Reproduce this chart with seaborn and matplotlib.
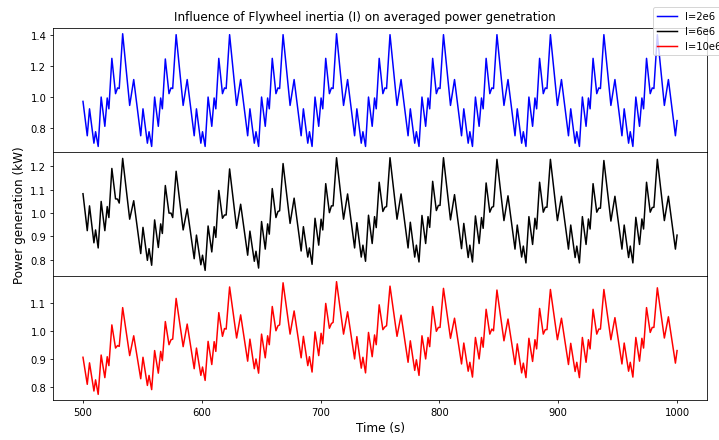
"""Influence of flywheel inertia on averaged power generation (3 stacked panels)."""

import matplotlib
matplotlib.use("Agg")
import matplotlib.pyplot as plt
import pandas as pd
import seaborn as sns

# Time of each line vertex (s)
time_s = [
    500.0,
    503.6, 505.5, 509.2, 510.6, 512.8, 515.3, 518.4, 520.4, 521.8, 524.3, 527.4, 529.1, 530.5, 533.4, 539.3, 542.7,
    548.6, 550.5, 554.2, 555.6, 557.8, 560.3, 563.4, 565.4, 566.8, 569.3, 572.4, 574.1, 575.5, 578.4, 584.3, 587.7,
    593.6, 595.5, 599.2, 600.6, 602.8, 605.3, 608.4, 610.4, 611.8, 614.3, 617.4, 619.1, 620.5, 623.4, 629.3, 632.7,
    638.6, 640.5, 644.2, 645.6, 647.8, 650.3, 653.4, 655.4, 656.8, 659.3, 662.4, 664.1, 665.5, 668.4, 674.3, 677.7,
    683.6, 685.5, 689.2, 690.6, 692.8, 695.3, 698.4, 700.4, 701.8, 704.3, 707.4, 709.1, 710.5, 713.4, 719.3, 722.7,
    728.6, 730.5, 734.2, 735.6, 737.8, 740.3, 743.4, 745.4, 746.8, 749.3, 752.4, 754.1, 755.5, 758.4, 764.3, 767.7,
    773.6, 775.5, 779.2, 780.6, 782.8, 785.3, 788.4, 790.4, 791.8, 794.3, 797.4, 799.1, 800.5, 803.4, 809.3, 812.7,
    818.6, 820.5, 824.2, 825.6, 827.8, 830.3, 833.4, 835.4, 836.8, 839.3, 842.4, 844.1, 845.5, 848.4, 854.3, 857.7,
    863.6, 865.5, 869.2, 870.6, 872.8, 875.3, 878.4, 880.4, 881.8, 884.3, 887.4, 889.1, 890.5, 893.4, 899.3, 902.7,
    908.6, 910.5, 914.2, 915.6, 917.8, 920.3, 923.4, 925.4, 926.8, 929.3, 932.4, 934.1, 935.5, 938.4, 944.3, 947.7,
    953.6, 955.5, 959.2, 960.6, 962.8, 965.3, 968.4, 970.4, 971.8, 974.3, 977.4, 979.1, 980.5, 983.4, 989.3, 992.7,
    998.6, 1000.0,
]

# Power (kW) for I=2e6
power_i2e6 = [
    0.974,
    0.752, 0.926, 0.704, 0.778, 0.683, 1.002, 0.813, 0.996, 0.926, 1.252, 1.024, 1.061, 1.057, 1.411, 0.948, 1.115,
    0.752, 0.926, 0.704, 0.778, 0.683, 1.002, 0.813, 0.996, 0.926, 1.248, 1.024, 1.061, 1.057, 1.405, 0.948, 1.115,
    0.752, 0.926, 0.704, 0.778, 0.683, 1.002, 0.813, 0.996, 0.926, 1.252, 1.024, 1.061, 1.057, 1.405, 0.948, 1.115,
    0.752, 0.926, 0.704, 0.778, 0.683, 1.002, 0.813, 0.996, 0.926, 1.252, 1.024, 1.061, 1.057, 1.405, 0.948, 1.115,
    0.752, 0.926, 0.704, 0.778, 0.683, 1.002, 0.813, 0.996, 0.926, 1.252, 1.024, 1.061, 1.057, 1.411, 0.948, 1.115,
    0.752, 0.926, 0.704, 0.778, 0.683, 1.002, 0.813, 0.996, 0.926, 1.252, 1.024, 1.061, 1.057, 1.405, 0.948, 1.115,
    0.752, 0.926, 0.704, 0.778, 0.683, 1.002, 0.813, 0.996, 0.926, 1.252, 1.024, 1.061, 1.057, 1.405, 0.948, 1.115,
    0.752, 0.926, 0.704, 0.778, 0.683, 1.002, 0.813, 0.996, 0.926, 1.252, 1.024, 1.061, 1.057, 1.405, 0.948, 1.115,
    0.752, 0.926, 0.704, 0.778, 0.683, 1.002, 0.813, 0.996, 0.926, 1.252, 1.024, 1.061, 1.057, 1.405, 0.948, 1.115,
    0.752, 0.926, 0.704, 0.778, 0.683, 1.002, 0.813, 0.996, 0.926, 1.252, 1.024, 1.061, 1.057, 1.405, 0.948, 1.115,
    0.752, 0.926, 0.704, 0.778, 0.683, 1.002, 0.813, 0.996, 0.926, 1.252, 1.024, 1.061, 1.057, 1.405, 0.948, 1.115,
    0.752, 0.850,
]

# Power (kW) for I=6e6
power_i6e6 = [
    1.082,
    0.924, 1.030, 0.872, 0.927, 0.850, 1.049, 0.924, 1.027, 0.980, 1.190, 1.060, 1.059, 1.042, 1.233, 0.973, 1.052,
    0.826, 0.938, 0.797, 0.847, 0.776, 0.970, 0.852, 0.953, 0.912, 1.117, 0.999, 0.999, 0.980, 1.178, 0.927, 1.017,
    0.804, 0.905, 0.778, 0.819, 0.754, 0.944, 0.833, 0.941, 0.895, 1.096, 0.977, 0.991, 0.991, 1.188, 0.934, 1.037,
    0.819, 0.922, 0.793, 0.836, 0.764, 0.963, 0.845, 0.953, 0.909, 1.104, 0.980, 1.006, 1.009, 1.211, 0.955, 1.063,
    0.837, 0.941, 0.811, 0.850, 0.780, 0.977, 0.862, 0.973, 0.927, 1.125, 1.001, 1.030, 1.030, 1.236, 0.973, 1.081,
    0.850, 0.958, 0.811, 0.862, 0.793, 0.990, 0.869, 0.984, 0.937, 1.131, 1.006, 1.024, 1.027, 1.236, 0.973, 1.081,
    0.850, 0.960, 0.811, 0.862, 0.790, 0.989, 0.869, 0.984, 0.938, 1.135, 1.010, 1.032, 1.032, 1.236, 0.970, 1.078,
    0.847, 0.955, 0.809, 0.862, 0.790, 0.987, 0.869, 0.980, 0.934, 1.128, 1.003, 1.024, 1.027, 1.229, 0.967, 1.073,
    0.845, 0.948, 0.811, 0.858, 0.786, 0.984, 0.865, 0.977, 0.931, 1.131, 1.003, 1.024, 1.024, 1.229, 0.967, 1.071,
    0.845, 0.948, 0.809, 0.858, 0.786, 0.984, 0.865, 0.974, 0.931, 1.125, 1.003, 1.020, 1.020, 1.224, 0.965, 1.071,
    0.845, 0.948, 0.809, 0.858, 0.786, 0.981, 0.865, 0.974, 0.931, 1.131, 1.003, 1.023, 1.024, 1.229, 0.967, 1.071,
    0.845, 0.905,
]

# Power (kW) for I=10e6
power_i10e6 = [
    0.905,
    0.808, 0.885, 0.784, 0.824, 0.772, 0.913, 0.832, 0.907, 0.875, 1.021, 0.938, 0.947, 0.944, 1.083, 0.911, 0.982,
    0.828, 0.905, 0.804, 0.840, 0.789, 0.929, 0.848, 0.926, 0.893, 1.033, 0.950, 0.968, 0.970, 1.116, 0.943, 1.024,
    0.864, 0.938, 0.840, 0.870, 0.822, 0.962, 0.879, 0.961, 0.926, 1.065, 0.980, 1.008, 1.006, 1.157, 0.974, 1.057,
    0.891, 0.970, 0.864, 0.899, 0.848, 0.988, 0.903, 0.982, 0.950, 1.087, 1.000, 1.018, 1.021, 1.172, 0.988, 1.071,
    0.903, 0.980, 0.875, 0.907, 0.852, 0.996, 0.911, 0.991, 0.953, 1.098, 1.009, 1.026, 1.030, 1.176, 0.988, 1.068,
    0.899, 0.979, 0.866, 0.905, 0.849, 0.994, 0.907, 0.985, 0.950, 1.093, 1.004, 1.014, 1.018, 1.160, 0.980, 1.056,
    0.887, 0.964, 0.858, 0.896, 0.840, 0.982, 0.899, 0.976, 0.943, 1.087, 0.998, 1.012, 1.012, 1.152, 0.973, 1.045,
    0.881, 0.956, 0.855, 0.887, 0.834, 0.976, 0.899, 0.976, 0.941, 1.077, 0.988, 1.006, 1.000, 1.146, 0.964, 1.042,
    0.879, 0.953, 0.849, 0.884, 0.832, 0.973, 0.890, 0.968, 0.935, 1.080, 0.988, 1.004, 1.004, 1.148, 0.968, 1.045,
    0.879, 0.955, 0.854, 0.887, 0.832, 0.976, 0.887, 0.968, 0.935, 1.077, 0.988, 1.006, 1.006, 1.148, 0.968, 1.047,
    0.881, 0.956, 0.855, 0.887, 0.834, 0.976, 0.891, 0.973, 0.938, 1.083, 0.994, 1.012, 1.012, 1.154, 0.974, 1.050,
    0.884, 0.929,
]

labels = ["I=2e6", "I=6e6", "I=10e6"]
colors = ["blue", "black", "red"]
y_ticks = [
    [0.8, 1.0, 1.2, 1.4],
    [0.8, 0.9, 1.0, 1.1, 1.2],
    [0.8, 0.9, 1.0, 1.1],
]

# 10 x 6.13 in at 71.9 dpi -> 719 x 441 px
fig, axes = plt.subplots(3, 1, sharex=True, figsize=(10, 6.1335), dpi=71.9)
fig.subplots_adjust(left=0.0741, right=0.983, top=0.934, bottom=0.0907, hspace=0)

handles = []
for ax, values, label, color, ticks in zip(
    axes, [power_i2e6, power_i6e6, power_i10e6], labels, colors, y_ticks
):
    df = pd.DataFrame({"time": time_s, "power": values})
    sns.lineplot(data=df, x="time", y="power", color=color, linewidth=1.5,
                 ax=ax, legend=False, label=label)
    ax.set_yticks(ticks)
    ax.set_xlabel("")
    ax.set_ylabel("")
    handles.append(ax.lines[0])

axes[1].set_ylabel("Power generation (kW)", fontsize=12)
axes[2].set_xlabel("Time (s)", fontsize=12)
axes[2].set_xticks([500, 600, 700, 800, 900, 1000])

fig.suptitle("Influence of Flywheel inertia (I) on averaged power genetration",
             fontsize=12, x=0.507, y=0.961, va="center")
fig.legend(handles, labels, loc="upper left",
           bbox_to_anchor=(653.3 / 719, 1 - 8.3 / 441), borderaxespad=0)

plt.savefig("out.png", dpi=71.9)
plt.close()
